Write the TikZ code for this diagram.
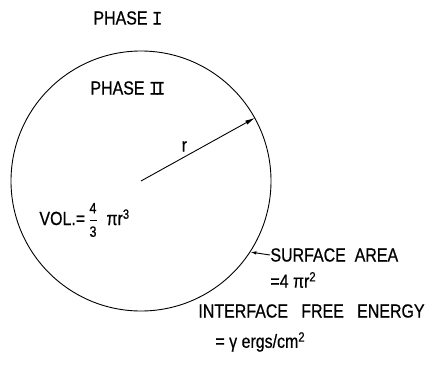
\documentclass[tikz,border=0pt]{standalone}
\usepackage{amsmath}
\usepackage{fontspec}
\setmainfont{Liberation Sans}[FakeStretch=0.84, FakeBold=0.6]
\newfontfamily\numfont{Liberation Mono}[FakeStretch=0.9, FakeBold=0.6]
\usetikzlibrary{arrows.meta, positioning}

\newcommand{\phaseone}{{\numfont I}}
\newcommand{\phasetwo}{{\numfont I\kern-0.22em I}}
\newcommand{\fracdigit}[1]{\text{\fontsize{15}{15}\selectfont #1}}

\begin{document}
\begin{tikzpicture}[x=1pt, y=-1pt, line width=0.9pt,
  every node/.style={font=\fontsize{19}{22}\selectfont, inner sep=0pt},
  lbl/.style={anchor=west}
]
  \useasboundingbox (0,0) rectangle (436,364);

  % the drop of phase II
  \node[circle, draw, minimum size=260pt] (drop) at (141,181) {};
  \coordinate (mid) at (drop.center);

  % phases
  \node[lbl] (ph1) at (93,18) {PHASE\ \phaseone};
  \node[lbl] (ph2) at (90,88) {PHASE\ \phasetwo};

  % radius
  \draw[-{Latex[length=10pt,width=4.5pt]}] (mid) -- node[pos=0.38, above=5pt] (rlbl) {r} (drop.29);

  % volume
  \node[lbl] (vol) at (39,220) {VOL.=\,$\dfrac{\fracdigit{4}}{\fracdigit{3}}$\ \ πr\textsuperscript{3}};

  % surface
  \node[lbl] (surf) at (270,255) {SURFACE\ \ AREA};
  \node[lbl] (surfeq) at (270,280) {=4 πr\textsuperscript{2}};
  \draw[-{Latex[length=6pt,width=3.5pt]}] (surf.west) -- (drop.-33);

  % free energy
  \node[lbl] (fe) at (198,311) {INTERFACE\ \ \ FREE\ \ \ ENERGY};
  \node[lbl] (feeq) at (215,342) {= γ ergs/cm\textsuperscript{2}};
\end{tikzpicture}
\end{document}
